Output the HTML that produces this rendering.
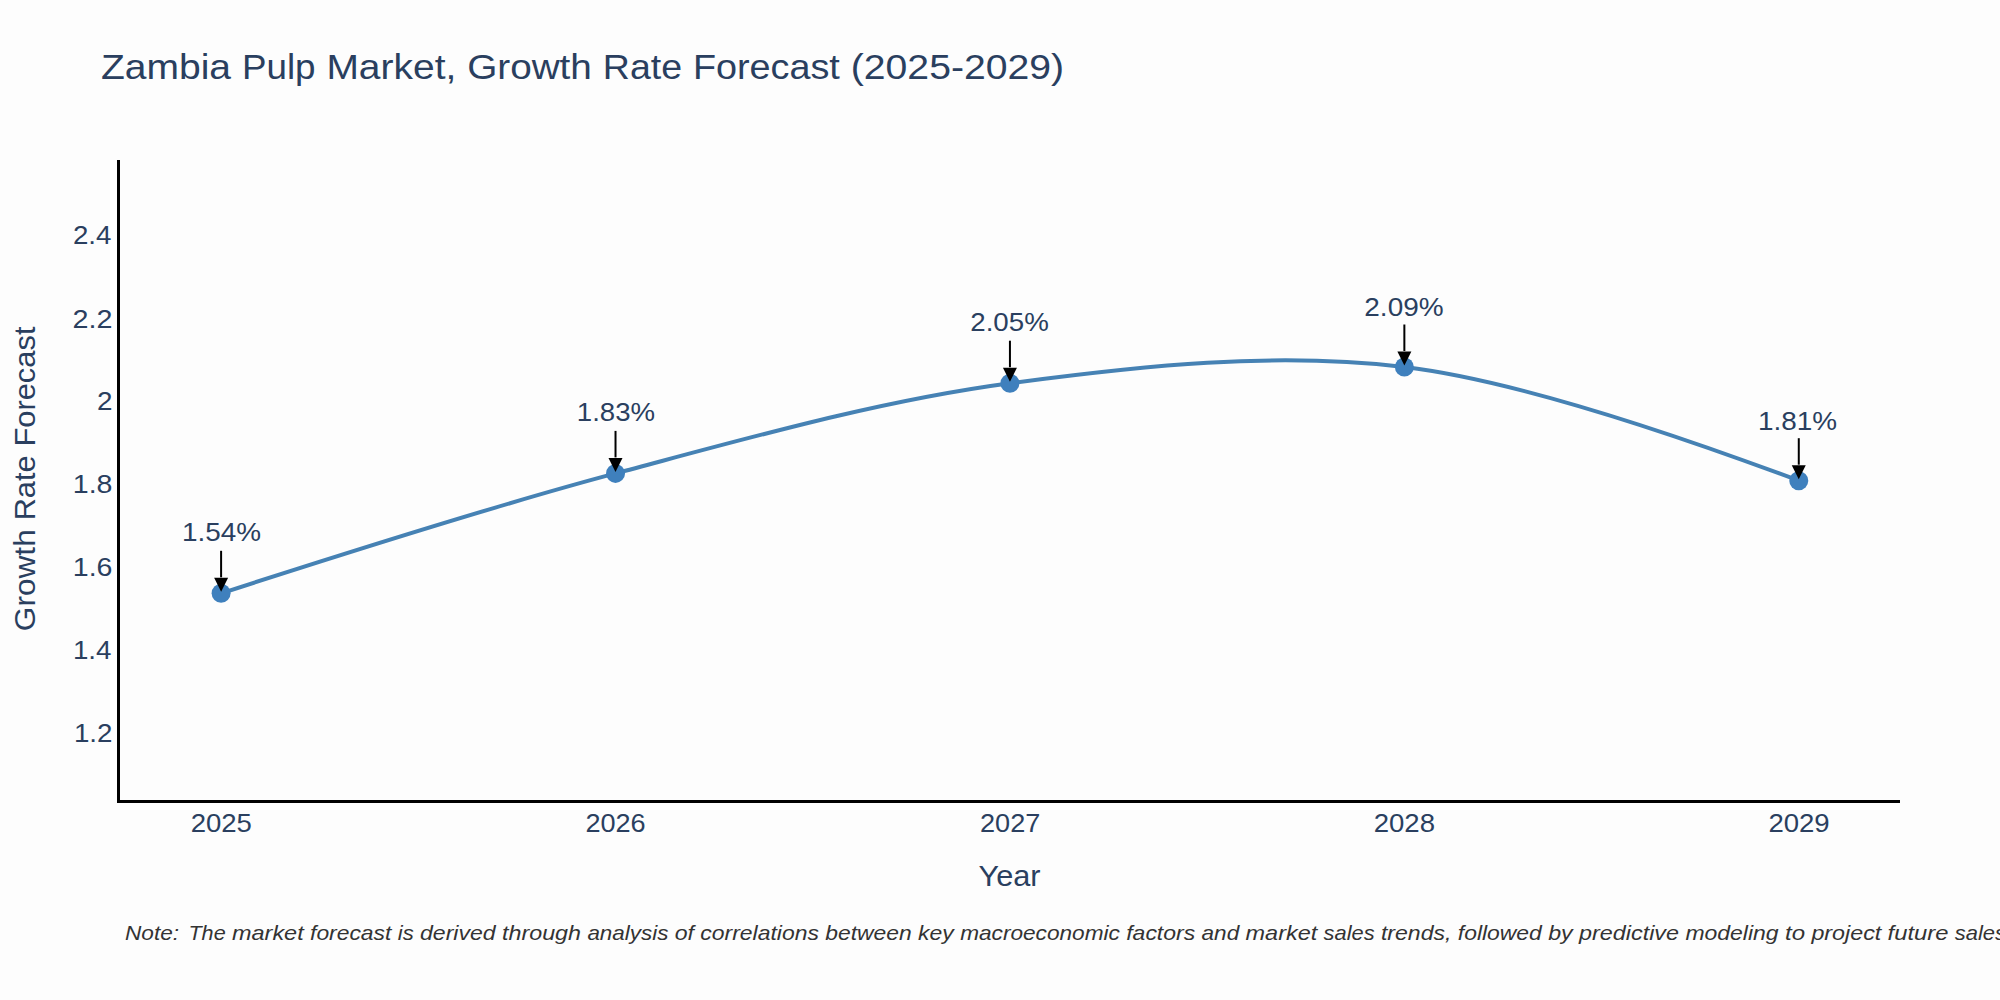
<!DOCTYPE html>
<html><head><meta charset="utf-8"><style>
html,body{margin:0;padding:0;background:#fff;width:2000px;height:1000px;overflow:hidden;}
svg{display:block;}
text{font-family:"Liberation Sans",sans-serif;}
</style></head><body>
<svg width="2000" height="1000" viewBox="0 0 2000 1000">
<rect x="0" y="0" width="2000" height="1000" fill="#fdfdfd"/>
<text x="101.00" y="79.10" font-size="35.40" fill="#2a3f5f" textLength="130.06" lengthAdjust="spacingAndGlyphs">Zambia</text>
<text x="241.95" y="79.10" font-size="35.40" fill="#2a3f5f" textLength="73.62" lengthAdjust="spacingAndGlyphs">Pulp</text>
<text x="326.45" y="79.10" font-size="35.40" fill="#2a3f5f" textLength="129.84" lengthAdjust="spacingAndGlyphs">Market,</text>
<text x="467.18" y="79.10" font-size="35.40" fill="#2a3f5f" textLength="124.72" lengthAdjust="spacingAndGlyphs">Growth</text>
<text x="602.79" y="79.10" font-size="35.40" fill="#2a3f5f" textLength="79.29" lengthAdjust="spacingAndGlyphs">Rate</text>
<text x="692.97" y="79.10" font-size="35.40" fill="#2a3f5f" textLength="146.90" lengthAdjust="spacingAndGlyphs">Forecast</text>
<text x="850.75" y="79.10" font-size="35.40" fill="#2a3f5f" textLength="213.41" lengthAdjust="spacingAndGlyphs">(2025-2029)</text>
<path d="M118.50,160.00V803.00" stroke="#000" stroke-width="3" fill="none"/>
<path d="M117.00,801.50H1900.00" stroke="#000" stroke-width="3" fill="none"/>
<text x="111.50" y="244.00" font-size="25.00" fill="#2a3f5f" text-anchor="end" textLength="38.54" lengthAdjust="spacingAndGlyphs">2.4</text>
<text x="112.50" y="328.00" font-size="25.00" fill="#2a3f5f" text-anchor="end" textLength="39.96" lengthAdjust="spacingAndGlyphs">2.2</text>
<text x="112.50" y="410.00" font-size="25.00" fill="#2a3f5f" text-anchor="end" textLength="15.49" lengthAdjust="spacingAndGlyphs">2</text>
<text x="112.50" y="493.00" font-size="25.00" fill="#2a3f5f" text-anchor="end" textLength="39.70" lengthAdjust="spacingAndGlyphs">1.8</text>
<text x="112.50" y="576.00" font-size="25.00" fill="#2a3f5f" text-anchor="end" textLength="39.70" lengthAdjust="spacingAndGlyphs">1.6</text>
<text x="111.50" y="659.00" font-size="25.00" fill="#2a3f5f" text-anchor="end" textLength="38.55" lengthAdjust="spacingAndGlyphs">1.4</text>
<text x="112.50" y="742.00" font-size="25.00" fill="#2a3f5f" text-anchor="end" textLength="38.58" lengthAdjust="spacingAndGlyphs">1.2</text>
<text x="221.30" y="831.90" font-size="25.60" fill="#2a3f5f" text-anchor="middle" textLength="61.27" lengthAdjust="spacingAndGlyphs">2025</text>
<text x="615.48" y="831.90" font-size="25.60" fill="#2a3f5f" text-anchor="middle" textLength="60.21" lengthAdjust="spacingAndGlyphs">2026</text>
<text x="1010.16" y="831.90" font-size="25.60" fill="#2a3f5f" text-anchor="middle" textLength="60.25" lengthAdjust="spacingAndGlyphs">2027</text>
<text x="1404.34" y="831.90" font-size="25.60" fill="#2a3f5f" text-anchor="middle" textLength="61.25" lengthAdjust="spacingAndGlyphs">2028</text>
<text x="1799.02" y="831.90" font-size="25.60" fill="#2a3f5f" text-anchor="middle" textLength="61.25" lengthAdjust="spacingAndGlyphs">2029</text>
<text x="1009.50" y="886.05" font-size="30.25" fill="#2a3f5f" text-anchor="middle" textLength="62.00" lengthAdjust="spacingAndGlyphs">Year</text>
<text transform="translate(34.80,631.20) rotate(-90)" x="0" y="0" font-size="29.80" fill="#2a3f5f" textLength="101.96" lengthAdjust="spacingAndGlyphs">Growth</text>
<text transform="translate(34.80,520.33) rotate(-90)" x="0" y="0" font-size="29.80" fill="#2a3f5f" textLength="64.82" lengthAdjust="spacingAndGlyphs">Rate</text>
<text transform="translate(34.80,446.62) rotate(-90)" x="0" y="0" font-size="29.80" fill="#2a3f5f" textLength="120.09" lengthAdjust="spacingAndGlyphs">Forecast</text>
<path d="M221.10,593.30Q483.43,508.54 615.52,473.40C746.38,438.59 877.65,400.89 1009.94,383.20C1140.61,365.73 1274.15,351.32 1404.36,367.00Q1537.14,382.98 1798.78,480.70" stroke="#4682b4" stroke-width="4.00" fill="none"/>
<circle cx="221.10" cy="593.30" r="9.50" fill="#3f80bd"/>
<circle cx="615.52" cy="473.40" r="9.50" fill="#3f80bd"/>
<circle cx="1009.94" cy="383.20" r="9.50" fill="#3f80bd"/>
<circle cx="1404.36" cy="367.00" r="9.50" fill="#3f80bd"/>
<circle cx="1798.78" cy="480.70" r="9.50" fill="#3f80bd"/>
<text x="221.50" y="541.20" font-size="25.00" fill="#2a3f5f" text-anchor="middle" textLength="79.04" lengthAdjust="spacingAndGlyphs">1.54%</text>
<path d="M221.10,550.80V577.30" stroke="#000" stroke-width="2.00"/>
<path d="M214.10,577.80H228.10L221.10,591.80Z" fill="#000"/>
<text x="615.98" y="421.30" font-size="25.00" fill="#2a3f5f" text-anchor="middle" textLength="78.26" lengthAdjust="spacingAndGlyphs">1.83%</text>
<path d="M615.52,430.90V457.40" stroke="#000" stroke-width="2.00"/>
<path d="M608.52,457.90H622.52L615.52,471.90Z" fill="#000"/>
<text x="1009.50" y="331.10" font-size="25.00" fill="#2a3f5f" text-anchor="middle" textLength="78.52" lengthAdjust="spacingAndGlyphs">2.05%</text>
<path d="M1009.94,340.70V367.20" stroke="#000" stroke-width="2.00"/>
<path d="M1002.94,367.70H1016.94L1009.94,381.70Z" fill="#000"/>
<text x="1403.97" y="315.90" font-size="25.00" fill="#2a3f5f" text-anchor="middle" textLength="79.29" lengthAdjust="spacingAndGlyphs">2.09%</text>
<path d="M1404.36,324.50V351.00" stroke="#000" stroke-width="2.00"/>
<path d="M1397.36,351.50H1411.36L1404.36,365.50Z" fill="#000"/>
<text x="1797.50" y="429.60" font-size="25.00" fill="#2a3f5f" text-anchor="middle" textLength="79.04" lengthAdjust="spacingAndGlyphs">1.81%</text>
<path d="M1798.78,438.20V464.70" stroke="#000" stroke-width="2.00"/>
<path d="M1791.78,465.20H1805.78L1798.78,479.20Z" fill="#000"/>
<text x="125.00" y="939.70" font-size="20.80" fill="#333" textLength="54.08" lengthAdjust="spacingAndGlyphs" font-style="italic">Note:</text>
<text x="188.44" y="939.70" font-size="20.80" fill="#333" textLength="37.20" lengthAdjust="spacingAndGlyphs" font-style="italic">The</text>
<text x="231.99" y="939.70" font-size="20.80" fill="#333" textLength="71.69" lengthAdjust="spacingAndGlyphs" font-style="italic">market</text>
<text x="310.04" y="939.70" font-size="20.80" fill="#333" textLength="81.32" lengthAdjust="spacingAndGlyphs" font-style="italic">forecast</text>
<text x="397.72" y="939.70" font-size="20.80" fill="#333" textLength="15.98" lengthAdjust="spacingAndGlyphs" font-style="italic">is</text>
<text x="420.05" y="939.70" font-size="20.80" fill="#333" textLength="75.62" lengthAdjust="spacingAndGlyphs" font-style="italic">derived</text>
<text x="502.02" y="939.70" font-size="20.80" fill="#333" textLength="79.02" lengthAdjust="spacingAndGlyphs" font-style="italic">through</text>
<text x="587.40" y="939.70" font-size="20.80" fill="#333" textLength="80.98" lengthAdjust="spacingAndGlyphs" font-style="italic">analysis</text>
<text x="674.74" y="939.70" font-size="20.80" fill="#333" textLength="19.28" lengthAdjust="spacingAndGlyphs" font-style="italic">of</text>
<text x="700.37" y="939.70" font-size="20.80" fill="#333" textLength="118.53" lengthAdjust="spacingAndGlyphs" font-style="italic">correlations</text>
<text x="825.26" y="939.70" font-size="20.80" fill="#333" textLength="86.48" lengthAdjust="spacingAndGlyphs" font-style="italic">between</text>
<text x="918.10" y="939.70" font-size="20.80" fill="#333" textLength="35.72" lengthAdjust="spacingAndGlyphs" font-style="italic">key</text>
<text x="960.18" y="939.70" font-size="20.80" fill="#333" textLength="159.68" lengthAdjust="spacingAndGlyphs" font-style="italic">macroeconomic</text>
<text x="1126.21" y="939.70" font-size="20.80" fill="#333" textLength="69.01" lengthAdjust="spacingAndGlyphs" font-style="italic">factors</text>
<text x="1201.58" y="939.70" font-size="20.80" fill="#333" textLength="37.63" lengthAdjust="spacingAndGlyphs" font-style="italic">and</text>
<text x="1245.57" y="939.70" font-size="20.80" fill="#333" textLength="71.69" lengthAdjust="spacingAndGlyphs" font-style="italic">market</text>
<text x="1323.62" y="939.70" font-size="20.80" fill="#333" textLength="50.96" lengthAdjust="spacingAndGlyphs" font-style="italic">sales</text>
<text x="1380.93" y="939.70" font-size="20.80" fill="#333" textLength="70.52" lengthAdjust="spacingAndGlyphs" font-style="italic">trends,</text>
<text x="1457.80" y="939.70" font-size="20.80" fill="#333" textLength="83.98" lengthAdjust="spacingAndGlyphs" font-style="italic">followed</text>
<text x="1548.15" y="939.70" font-size="20.80" fill="#333" textLength="24.53" lengthAdjust="spacingAndGlyphs" font-style="italic">by</text>
<text x="1579.04" y="939.70" font-size="20.80" fill="#333" textLength="100.01" lengthAdjust="spacingAndGlyphs" font-style="italic">predictive</text>
<text x="1685.40" y="939.70" font-size="20.80" fill="#333" textLength="93.20" lengthAdjust="spacingAndGlyphs" font-style="italic">modeling</text>
<text x="1784.96" y="939.70" font-size="20.80" fill="#333" textLength="20.08" lengthAdjust="spacingAndGlyphs" font-style="italic">to</text>
<text x="1811.40" y="939.70" font-size="20.80" fill="#333" textLength="69.85" lengthAdjust="spacingAndGlyphs" font-style="italic">project</text>
<text x="1887.61" y="939.70" font-size="20.80" fill="#333" textLength="60.76" lengthAdjust="spacingAndGlyphs" font-style="italic">future</text>
<text x="1954.73" y="939.70" font-size="20.80" fill="#333" textLength="57.31" lengthAdjust="spacingAndGlyphs" font-style="italic">sales.</text>
</svg>
</body></html>
